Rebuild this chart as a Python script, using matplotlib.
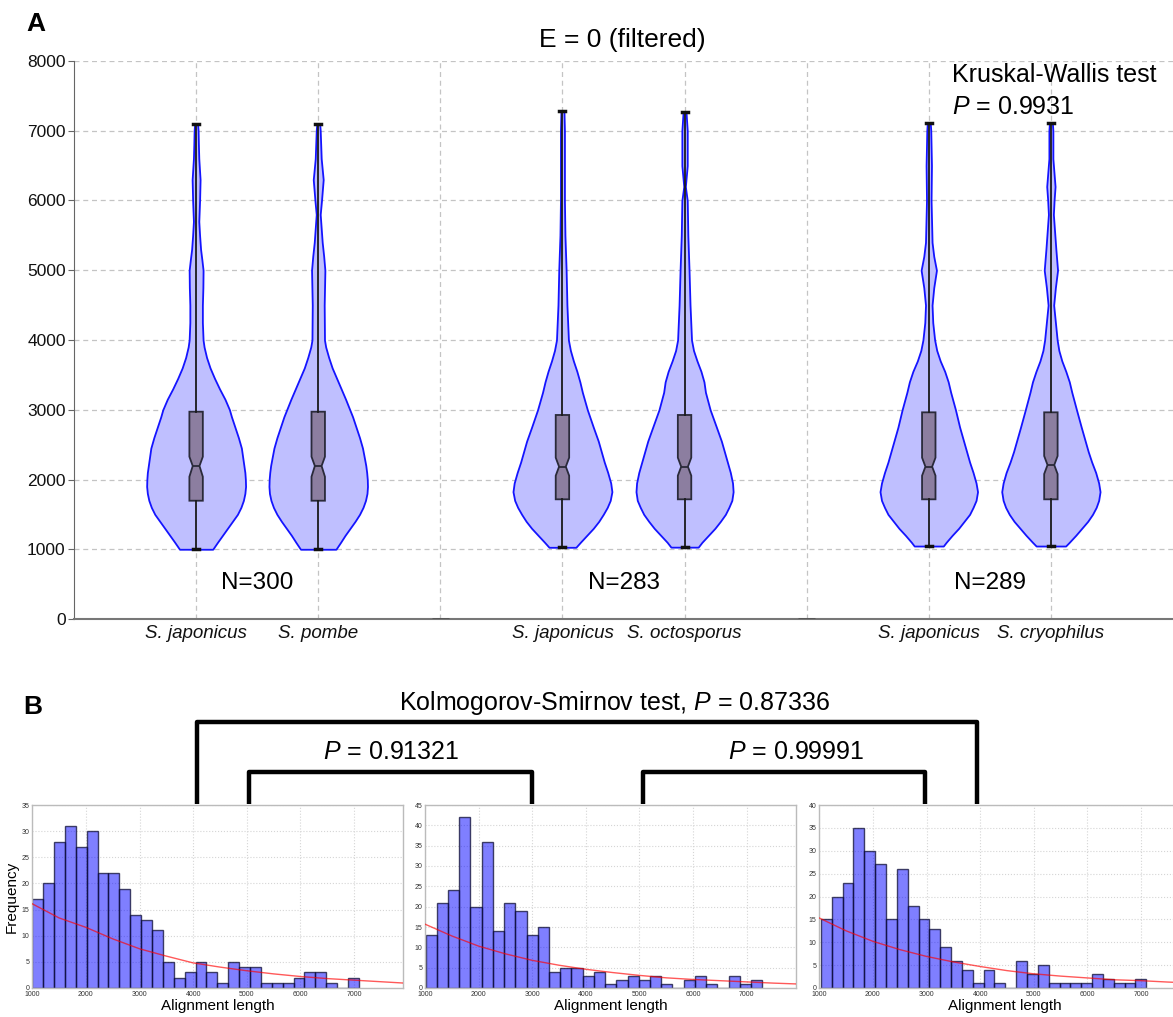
import numpy as np
import matplotlib
matplotlib.use('Agg')
import matplotlib.pyplot as plt
from matplotlib.lines import Line2D

plt.rcParams['font.family'] = ['Liberation Sans', 'DejaVu Sans']
plt.rcParams['mathtext.fontset'] = 'custom'
plt.rcParams['mathtext.rm'] = 'Liberation Sans'
plt.rcParams['mathtext.it'] = 'Liberation Sans:italic'

# ---------------- data: panel A ----------------
tick_labels = ['S. japonicus', 'S. pombe', '', 'S. japonicus', 'S. octosporus', '',
               'S. japonicus', 'S. cryophilus']
violin_positions = [1, 2, 4, 5, 7, 8]
spacer_positions = [3, 6]
spacer_values = [0, 0]
group_labels = ['N=300', 'N=283', 'N=289']
group_centers = [1.5, 4.5, 7.5]

# violin density profiles (value levels, relative density)
v1_y = [1000, 1100, 1200, 1300, 1400, 1500, 1600, 1700, 1800, 1900, 2000, 2100, 2200, 2300, 2450,
        2600, 2750, 2900, 3000, 3150, 3300, 3450, 3600, 3750, 3900, 4000, 4250, 4500, 4750, 5000,
        5150, 5300, 5500, 5700, 6000, 6300, 6600, 6800, 7000, 7100]
v1_d = [16.7, 21.5, 26.5, 31.5, 36.5, 41.5, 45, 47.5, 49, 49.7, 49.5, 49, 48, 47, 45.5,
        42.5, 39, 35.5, 33.5, 29, 23.5, 18.5, 14, 10.5, 8, 7, 6.3, 6.3, 6.8, 7,
        5.8, 4.5, 3.5, 2.7, 3.5, 4, 2.7, 2.3, 2, 1.5]
v2_y = [1000, 1100, 1200, 1300, 1400, 1500, 1600, 1700, 1800, 1900, 2000, 2100, 2200, 2300, 2450,
        2600, 2750, 2900, 3000, 3150, 3300, 3450, 3600, 3750, 3900, 4000, 4500, 5000, 5200, 5400,
        5800, 6000, 6300, 6600, 7000, 7100]
v2_d = [17.8, 22.5, 27, 32, 37, 41.5, 45, 47.5, 49, 49.5, 49.3, 48.7, 47.8, 46.5, 44.5,
        41.5, 38, 34.5, 31.7, 27.5, 23, 18.5, 14, 10.5, 7.5, 6.3, 6, 6.7, 5.5, 4,
        2, 3.3, 5, 3, 2, 1.5]
v3_y = [1028, 1100, 1200, 1300, 1400, 1500, 1600, 1700, 1825, 1950, 2100, 2250, 2400, 2550, 2750,
        3000, 3250, 3400, 3550, 3700, 3850, 4000, 4500, 5000, 5500, 6000, 6500, 7000, 7290]
v3_d = [13.5, 18, 24.5, 31, 36.5, 41, 45, 48, 49.7, 48.5, 45.5, 42, 39, 36, 31,
        25, 20, 17.5, 14.5, 11, 8, 6, 4.5, 3.7, 2.5, 2, 2, 2, 1.5]
v4_y = [1030, 1100, 1200, 1300, 1400, 1500, 1600, 1700, 1825, 1950, 2100, 2250, 2400, 2550, 2750,
        3000, 3250, 3400, 3550, 3700, 3850, 4000, 4500, 5000, 5500, 6000, 6200, 6500, 7000, 7264]
v4_d = [13.7, 17.5, 24, 30.5, 36, 41, 44.5, 47.5, 48.8, 48.2, 46, 43, 40, 37, 32,
        25.7, 21, 19.5, 16.5, 12.5, 9, 7, 5.5, 4.5, 3.3, 2.7, 0.8, 2.7, 2.7, 1.5]
v5_y = [1046, 1100, 1200, 1300, 1400, 1500, 1600, 1700, 1825, 1950, 2100, 2250, 2400, 2550, 2750,
        3000, 3250, 3400, 3550, 3700, 3850, 4000, 4250, 4500, 4750, 5000, 5200, 5400, 6000, 6500,
        7000, 7110]
v5_d = [14.6, 17.5, 23.5, 30, 35.5, 41, 44.5, 47.5, 49, 47.5, 44.5, 41, 38, 35, 31,
        26.8, 22, 19.5, 16, 11.5, 8, 5.9, 4, 3.3, 5, 7.7, 5, 3.3, 2.3, 2.7,
        2, 1.5]
v6_y = [1046, 1100, 1200, 1300, 1400, 1500, 1600, 1700, 1825, 1950, 2100, 2250, 2400, 2550, 2750,
        3000, 3250, 3400, 3550, 3700, 3850, 4000, 4500, 4750, 5000, 5300, 5800, 6000, 6200, 6600,
        7000, 7110]
v6_d = [14.8, 18.5, 25, 31, 37, 41.8, 45.5, 48, 49.4, 48, 45, 41, 37.5, 34.5, 30.5,
        25.7, 21, 18.5, 15, 11, 8, 6.3, 2.8, 4.5, 6.7, 5, 2.5, 3.2, 4.2, 2,
        2, 1.5]

# box statistics
box_q1 = [1696, 1696, 1716, 1716, 1716, 1716]
box_med = [2194, 2194, 2184, 2184, 2184, 2208]
box_q3 = [2972, 2972, 2925, 2925, 2963, 2963]
box_min = [1000, 1000, 1028, 1030, 1046, 1046]
box_max = [7100, 7100, 7290, 7264, 7110, 7110]
box_cilo = [2040, 2040, 2055, 2055, 2055, 2079]
box_cihi = [2327, 2327, 2313, 2313, 2313, 2337]

# ---------------- data: panel B ----------------
h1_counts = [17, 20, 28, 31, 27, 30, 22, 22, 19, 14, 13, 11, 5, 2, 3, 5, 3, 1, 5, 4, 4, 1, 1, 1, 2, 3, 3, 1, 0, 2]
h2_counts = [13, 21, 24, 42, 20, 36, 14, 21, 19, 13, 15, 4, 5, 5, 3, 4, 1, 2, 3, 2, 3, 1, 0, 2, 3, 1, 0, 3, 1, 2]
h3_counts = [15, 20, 23, 35, 30, 27, 15, 26, 18, 15, 13, 9, 6, 4, 1, 4, 1, 0, 6, 3, 5, 1, 1, 1, 1, 3, 2, 1, 1, 2]
h1_range = [1000, 7090]
h2_range = [1010, 7290]
h3_range = [1030, 7100]
h_ymax = [35, 45, 40]

fit_x = [1000, 1500, 2000, 2500, 3000, 3500, 4000, 4500, 5000, 5500, 6000, 6500, 7000, 7500, 7920]
fit1_y = [16.1, 13.4, 11.6, 9.4, 7.5, 6.1, 4.8, 4.0, 3.3, 2.7, 2.2, 1.8, 1.5, 1.2, 0.95]
fit2_y = [15.7, 12.8, 10.3, 8.4, 6.8, 5.6, 4.6, 3.8, 3.1, 2.5, 2.1, 1.8, 1.5, 1.2, 1.0]
fit3_y = [15.3, 12.5, 10.2, 8.4, 6.9, 5.7, 4.7, 3.8, 3.1, 2.6, 2.2, 1.8, 1.6, 1.3, 1.1]

# ---------------- figure ----------------
W, H = 1173, 1017
fig = plt.figure(figsize=(W / 100, H / 100), dpi=100)


def rect(x0, y0, x1, y1):
    return [x0 / W, 1 - y1 / H, (x1 - x0) / W, (y1 - y0) / H]


# Panel A
ax = fig.add_axes(rect(74, 61, 1173, 619))
ax.set_xlim(0, 9)
ax.set_ylim(0, 8000)

profiles = [(v1_y, v1_d), (v2_y, v2_d), (v3_y, v3_d), (v4_y, v4_d), (v5_y, v5_d), (v6_y, v6_d)]
vpstats = []
widths = []
for (yy, dd), mn, mx, md in zip(profiles, box_min, box_max, box_med):
    vpstats.append(dict(coords=np.array(yy, float), vals=np.array(dd, float),
                        mean=md, median=md, min=mn, max=mx))
    widths.append(0.815 * max(dd) / 50.0)
parts = ax.violin(vpstats, positions=violin_positions, widths=widths,
                  showmeans=False, showextrema=False, showmedians=False)
for b in parts['bodies']:
    b.set_alpha(None)
    b.set_facecolor('#bfbfff')
    b.set_edgecolor('#1414ff')
    b.set_linewidth(1.3)
    b.set_joinstyle('round')
    b.set_zorder(2)

bstats = []
for i in range(len(violin_positions)):
    bstats.append(dict(med=box_med[i], q1=box_q1[i], q3=box_q3[i], whislo=box_min[i],
                       whishi=box_max[i], cilo=box_cilo[i], cihi=box_cihi[i], fliers=[]))
ax.bxp(bstats, positions=violin_positions, widths=0.11, shownotches=True, patch_artist=True,
       showfliers=False, capwidths=0.05, manage_ticks=False,
       boxprops=dict(facecolor='#8c7ea0', edgecolor='#2a2a3a', linewidth=1.3),
       whiskerprops=dict(color='#1a1a1a', linewidth=1.3),
       capprops=dict(color='#111111', linewidth=2.5),
       medianprops=dict(color='#2a2a3a', linewidth=1.3), zorder=3)

ax.hlines(spacer_values, [p - 0.07 for p in spacer_positions], [p + 0.07 for p in spacer_positions],
          color='#555555', linewidth=2, zorder=3)

for c, t in zip(group_centers, group_labels):
    ax.text(c, 520, t, ha='center', va='center', fontsize=17.5, color='black')

ax.set_xticks(range(1, 9))
ax.set_xticklabels(tick_labels, fontsize=13.5, style='italic', color='#111111')
ax.set_yticks(range(0, 8001, 1000))
ax.tick_params(axis='y', labelsize=12.5, length=4, color='#666666', pad=2, labelcolor='#111111')
ax.tick_params(axis='x', length=0, pad=4)
ax.grid(True, color='#c4c4c4', linestyle=(0, (4, 3)), linewidth=0.9)
ax.set_axisbelow(True)
for s in ['top', 'right']:
    ax.spines[s].set_visible(False)
ax.spines['left'].set_color('#666666')
ax.spines['bottom'].set_color('#777777')
ax.spines['bottom'].set_linewidth(1.5)

fig.text(36 / W, 1 - 24 / H, 'A', fontsize=19, fontweight='bold', ha='center', va='center')
fig.text(622 / W, 1 - 40 / H, 'E = 0 (filtered)', fontsize=19, ha='center', va='center')
fig.text(952 / W, 1 - 75 / H, 'Kruskal-Wallis test', fontsize=18, ha='left', va='center')
fig.text(952 / W, 1 - 107 / H, r'$P$ = 0.9931', fontsize=18, ha='left', va='center')

# Panel B
fig.text(33 / W, 1 - 707 / H, 'B', fontsize=19, fontweight='bold', ha='center', va='center')

hist_counts = [h1_counts, h2_counts, h3_counts]
hist_ranges = [h1_range, h2_range, h3_range]
fits = [fit1_y, fit2_y, fit3_y]
lefts = [32.3, 425, 819.3]
for k in range(3):
    hx = fig.add_axes(rect(lefts[k], 805, lefts[k] + 371, 988))
    edges = np.linspace(hist_ranges[k][0], hist_ranges[k][1], len(hist_counts[k]) + 1)
    hx.hist(edges[:-1], bins=edges, weights=hist_counts[k], facecolor=(0, 0, 1, 0.5),
            edgecolor=(0.05, 0.05, 0.2, 0.75), linewidth=1.0, zorder=2)
    hx.plot(fit_x, fits[k], color=(1, 0, 0, 0.65), linewidth=1.0, zorder=3)
    hx.set_xlim(1000, 7920)
    hx.set_ylim(0, h_ymax[k])
    hx.set_xticks(range(1000, 7001, 1000))
    hx.set_yticks(range(0, h_ymax[k] + 1, 5))
    hx.tick_params(axis='x', labelsize=5, length=0, pad=2.5, labelcolor='#333333')
    hx.tick_params(axis='y', labelsize=5, length=0, pad=2.0, labelcolor='#333333')
    hx.grid(True, color='#d5d5d5', linestyle=':', linewidth=0.8)
    hx.set_axisbelow(True)
    for s in hx.spines.values():
        s.set_color('#bbbbbb')
        s.set_linewidth(1.0)
    hx.set_xlabel('Alignment length', fontsize=11, labelpad=0.5)
    if k == 0:
        hx.set_ylabel('Frequency', fontsize=11, labelpad=2)

# brackets overlay
ov = fig.add_axes([0, 0, 1, 1], zorder=-1)
ov.set_xlim(0, W)
ov.set_ylim(H, 0)
ov.axis('off')
brackets = [(197, 977, 722), (249, 532, 772), (643, 925, 772)]
for x0, x1, yt in brackets:
    ov.add_line(Line2D([x0, x0, x1, x1], [804, yt, yt, 804], color='black', linewidth=3.2,
                       solid_joinstyle='round', solid_capstyle='butt'))
ov.text(614, 703, r'Kolmogorov-Smirnov test, $P$ = 0.87336', fontsize=18, ha='center', va='center')
ov.text(391, 752, r'$P$ = 0.91321', fontsize=18, ha='center', va='center')
ov.text(796, 752, r'$P$ = 0.99991', fontsize=18, ha='center', va='center')

fig.savefig('out.png', dpi=100)
